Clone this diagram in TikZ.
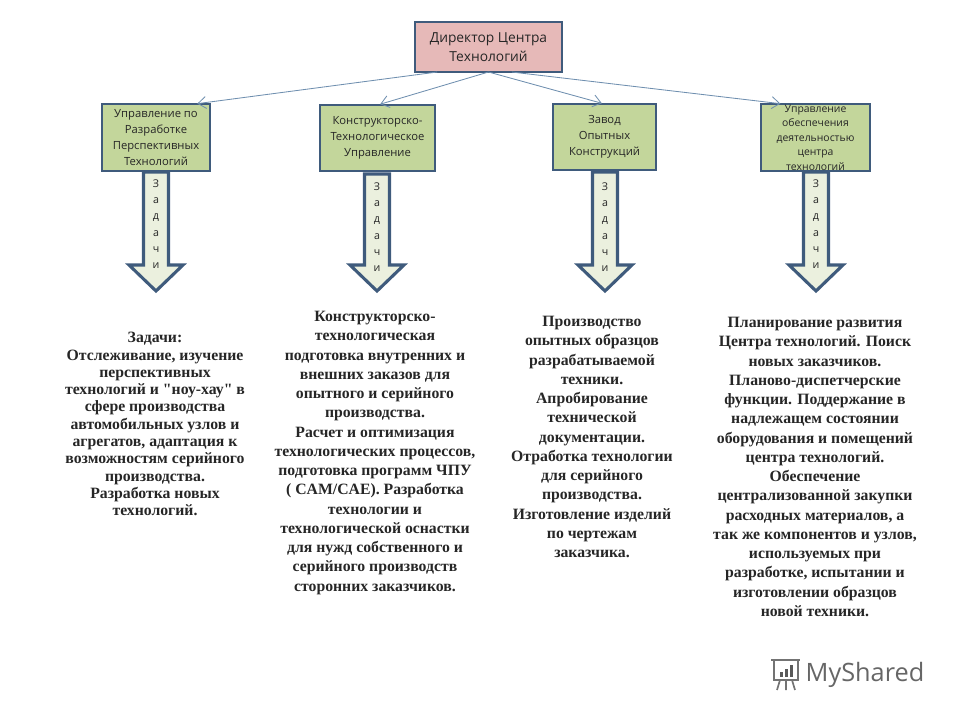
\documentclass[tikz,border=0pt]{standalone}
\usepackage{fontspec}
\setmainfont{Liberation Serif}[Ligatures=TeXOff]
\newfontfamily\boxfont{Open Sans}
\usepackage{xcolor}
\usetikzlibrary{arrows.meta}
\definecolor{frameblue}{HTML}{3F5B7C}
\definecolor{linkblue}{HTML}{6F8FAF}
\definecolor{headpink}{HTML}{E6B9B8}
\definecolor{unitgreen}{HTML}{C3D69B}
\definecolor{arrowfill}{HTML}{EBF0DE}
\tikzset{
  headbox/.style={draw=frameblue, line width=2pt, fill=headpink, inner sep=0pt, outer sep=0pt,
    align=center, text=black!85, font=\boxfont\fontsize{9.8}{13.6}\selectfont},
  unitbox/.style={draw=frameblue, line width=2pt, fill=unitgreen, inner sep=0pt, outer sep=0pt,
    align=center, text=black!85, font=\boxfont\fontsize{8}{11.4}\selectfont},
  link/.style={draw=linkblue, line width=0.6pt, shorten >=0.7mm, -{Straight Barb[length=2mm,width=3mm]}},
  taskarrow/.style={draw=frameblue, line width=2.2pt, fill=arrowfill, miter limit=10},
  tasklabel/.style={inner sep=0pt, align=center, text=black!85, font=\boxfont\fontsize{7.6}{11.6}\selectfont},
  bodytext/.style={anchor=north, inner sep=0pt, align=center, text=black!85,
    font=\bfseries\fontsize{11.2}{13.7}\selectfont}
}
\begin{document}
\begin{tikzpicture}[x=0.25mm, y=-0.25mm]
  \useasboundingbox (0,0) rectangle (960,720);

  % Block arrows: centre, top, label position, name
  \foreach \x/\t/\ly/\n in {156/172/224/A, 377/174/227/B, 605/172/227/C, 816/172/224/D}{
    \draw[taskarrow] ({\x-12.5},\t) -- ({\x+12.5},\t) -- ({\x+12.5},265) -- ({\x+27},265)
      -- (\x,291) -- ({\x-27},265) -- ({\x-12.5},265) -- cycle;
    \node[tasklabel] (task\n) at (\x,\ly) {З\\а\\д\\а\\ч\\и};
  }

  % Top box and the four units
  \node[headbox, minimum width=36.75mm, minimum height=12.5mm] (director) at (488.5,47)
    {Директор Центра\\Технологий};
  \node[unitbox, minimum width=27mm, minimum height=16.75mm] (unitA) at (156,137.5)
    {Управление по\\Разработке\\Перспективных\\Технологий};
  \node[unitbox, minimum width=28.75mm, minimum height=16.5mm] (unitB) at (377.5,138)
    {Конструкторско-\\Технологическое\\Управление};
  \node[unitbox, minimum width=25.75mm, minimum height=16.5mm] (unitC) at (604.5,137)
    {Завод\\Опытных\\Конструкций};
  \node[unitbox, minimum width=27.25mm, minimum height=16.75mm,
    font=\boxfont\fontsize{7.4}{10.3}\selectfont] (unitD) at (815.5,137.5)
    {Управление\\обеспечения\\деятельностью\\центра\\технологий};

  % Links from the top box
  \draw[link] (director.-154) -- (unitA.41);
  \draw[link] (director.south) -- (unitB.north);
  \draw[link] (director.south) -- (unitC.north);
  \draw[link] (director.-47) -- (unitD.134);

  % Text columns
  \node[bodytext, font=\bfseries\fontsize{11.2}{12.3}\selectfont] (textA) at (155,332) {Задачи:\\Отслеживание, изучение\\перспективных\\технологий и "ноу-хау" в\\сфере производства\\автомобильных узлов и\\агрегатов, адаптация к\\возможностям серийного\\производства.\\Разработка новых\\технологий.};
  \node[bodytext] (textB) at (375,311) {Конструкторско-\\технологическая\\подготовка внутренних и\\внешних заказов для\\опытного и серийного\\производства.\\Расчет и оптимизация\\технологических процессов,\\подготовка программ ЧПУ\\( CAM/CAE). Разработка\\технологии и\\технологической оснастки\\для нужд собственного и\\серийного производств\\сторонних заказчиков.};
  \node[bodytext] (textC) at (592,316) {Производство\\опытных образцов\\разрабатываемой\\техники.\\Апробирование\\технической\\документации.\\Отработка технологии\\для серийного\\производства.\\Изготовление изделий\\по чертежам\\заказчика.};
  \node[bodytext] (textD) at (815,317) {Планирование развития\\Центра технологий. Поиск\\новых заказчиков.\\Планово-диспетчерские\\функции. Поддержание в\\надлежащем состоянии\\оборудования и помещений\\центра технологий.\\Обеспечение\\централизованной закупки\\расходных материалов, а\\так же компонентов и узлов,\\используемых при\\разработке, испытании и\\изготовлении образцов\\новой техники.};

  % Logo
  \draw[black!55, line width=1.2pt] (771,660) -- (800,660) (774,660) -- (774,680) -- (798,680) -- (798,660);
  \foreach \x/\h in {780/5, 785/8, 790/12}{
    \fill[black!65] (\x,677) rectangle ({\x+3},{677-\h});
  }
  \draw[black!55, line width=1.2pt] (780,680) -- (777,690) (792,680) -- (795,690) (786,680) -- (786,690);
  \node[inner sep=0pt, text=black!60, font=\boxfont\fontsize{18}{20}\selectfont] (logo) at (865,675) {MyShared};
\end{tikzpicture}
\end{document}
